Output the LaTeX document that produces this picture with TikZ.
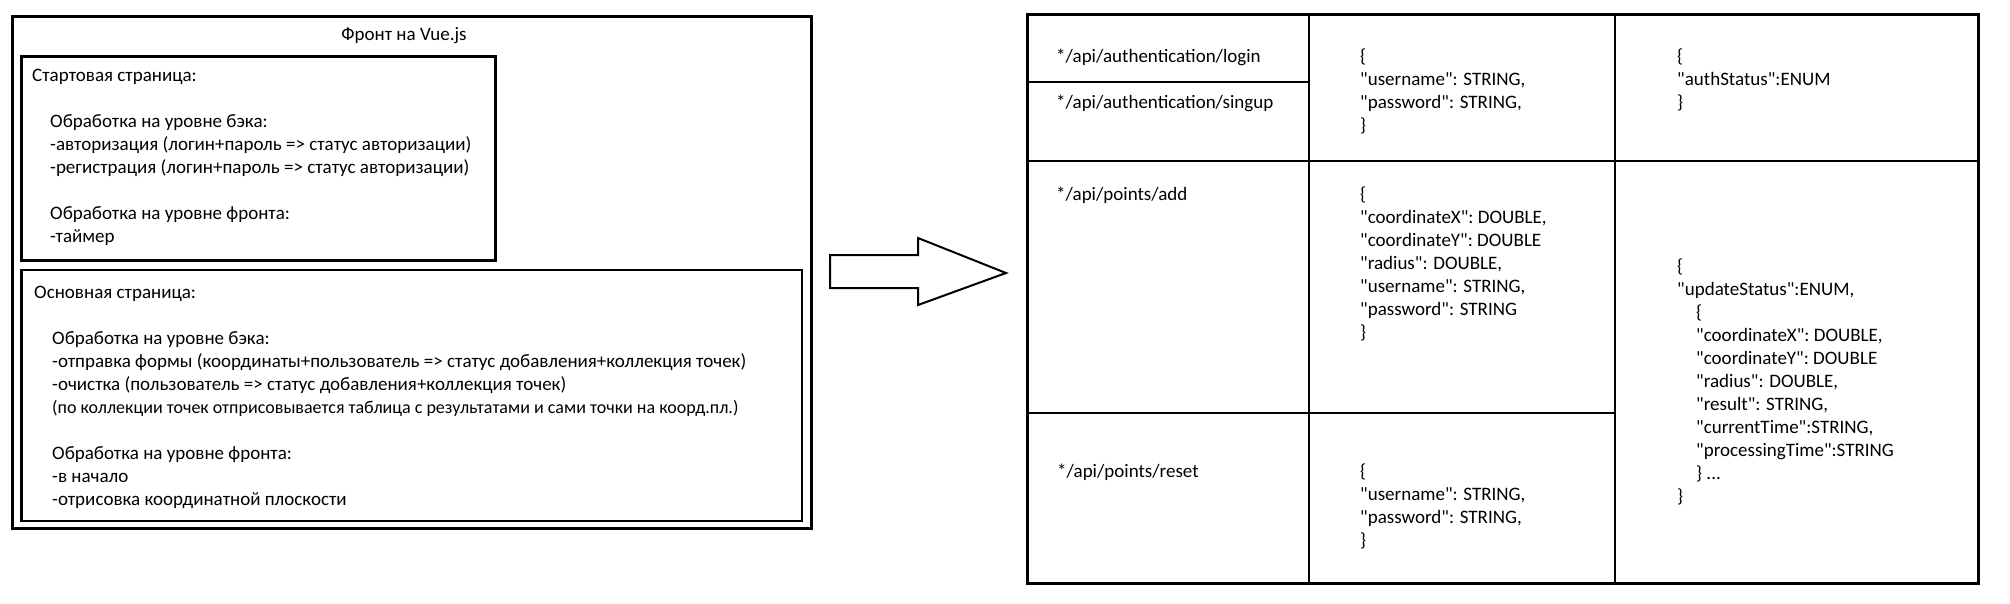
\documentclass[tikz,border=0pt]{standalone}
\usepackage{fontspec}
\setmainfont{Carlito}
\newcommand\dq{\XeTeXglyph\XeTeXcharglyph"22\relax}
\begin{document}
\begin{tikzpicture}[x=1pt,y=-1pt,
  blk/.style={inner sep=0pt, align=left, font=\fontsize{19}{23}\selectfont, anchor=north west},
  ln/.style={inner sep=0pt, font=\fontsize{19}{23}\selectfont, anchor=base west},
  heavy/.style={draw=black, line width=3pt},
  medium/.style={draw=black, line width=2.5pt},
  thin/.style={draw=black, line width=2pt}]
\useasboundingbox (0,0) rectangle (2010,604);
% left part
\draw[heavy] (12,17) rectangle (811,528);
\node[ln, anchor=base] (title) at (404,40.5) {Фронт на Vue.js};
\draw[heavy] (21.5,57) rectangle (495,260);
\node[ln] (start) at (32,81.5) {Стартовая страница:};
\node[blk] (startbody) at (50,111.4) {\strut Обработка на уровне бэка:\\
-авторизация (логин+пароль => статус авторизации)\\
-регистрация (логин+пароль => статус авторизации)\\[23pt]
Обработка на уровне фронта:\\
-таймер};
\draw[medium] (21.5,270) rectangle (802,521);
\node[ln] (main) at (34,298.5) {Основная страница:};
\node[blk] (mainbody) at (52,328.4) {\strut Обработка на уровне бэка:\\
-отправка формы (координаты+пользователь => статус добавления+коллекция точек)\\
-очистка (пользователь => статус добавления+коллекция точек)\\
{\fontsize{18}{23}\selectfont (по коллекции точек отприсовывается таблица с результатами и сами точки на коорд.пл.)}\\[23pt]
Обработка на уровне фронта:\\
-в начало\\
-отрисовка координатной плоскости};
% block arrow
\draw[thin, line join=miter] (830,255) -- (918,255) -- (918,238) -- (1006,273) -- (918,305) -- (918,288) -- (830,288) -- cycle;
% table
\draw[heavy] (1027,15) rectangle (1978,583);
\draw[medium] (1309,15) -- (1309,583);
\draw[thin] (1615,15) -- (1615,583);
\draw[medium] (1027,82) -- (1309,82);
\draw[medium] (1027,161) -- (1978,161);
\draw[medium] (1027,413) -- (1615,413);
\node[ln] (login) at (1056,62.5) {*/api/authentication/login};
\node[ln] (signup) at (1056,108.5) {*/api/authentication/singup};
\node[blk] (authreq) at (1360,46.4) {\strut\{\\
\dq username\dq: STRING,\\
\dq password\dq: STRING,\\
\}};
\node[blk] (authresp) at (1677,46.4) {\strut\{\\
\dq authStatus\dq:ENUM\\
\}};
\node[ln] (add) at (1056,200.5) {*/api/points/add};
\node[blk] (addreq) at (1360,184.4) {\strut\{\\
\dq coordinateX\dq: DOUBLE,\\
\dq coordinateY\dq: DOUBLE\\
\dq radius\dq: DOUBLE,\\
\dq username\dq: STRING,\\
\dq password\dq: STRING\\
\}};
\node[blk] (pointsresp) at (1677,256.4) {\strut\{\\
\dq updateStatus\dq:ENUM,\\
\hspace*{19pt}\{\\
\hspace*{19pt}\dq coordinateX\dq: DOUBLE,\\
\hspace*{19pt}\dq coordinateY\dq: DOUBLE\\
\hspace*{19pt}\dq radius\dq: DOUBLE,\\
\hspace*{19pt}\dq result\dq: STRING,\\
\hspace*{19pt}\dq currentTime\dq:STRING,\\
\hspace*{19pt}\dq processingTime\dq:STRING\\
\hspace*{19pt}\} ...\\
\}};
\node[ln] (reset) at (1057,477.5) {*/api/points/reset};
\node[blk] (resetreq) at (1360,461.4) {\strut\{\\
\dq username\dq: STRING,\\
\dq password\dq: STRING,\\
\}};
\end{tikzpicture}
\end{document}
